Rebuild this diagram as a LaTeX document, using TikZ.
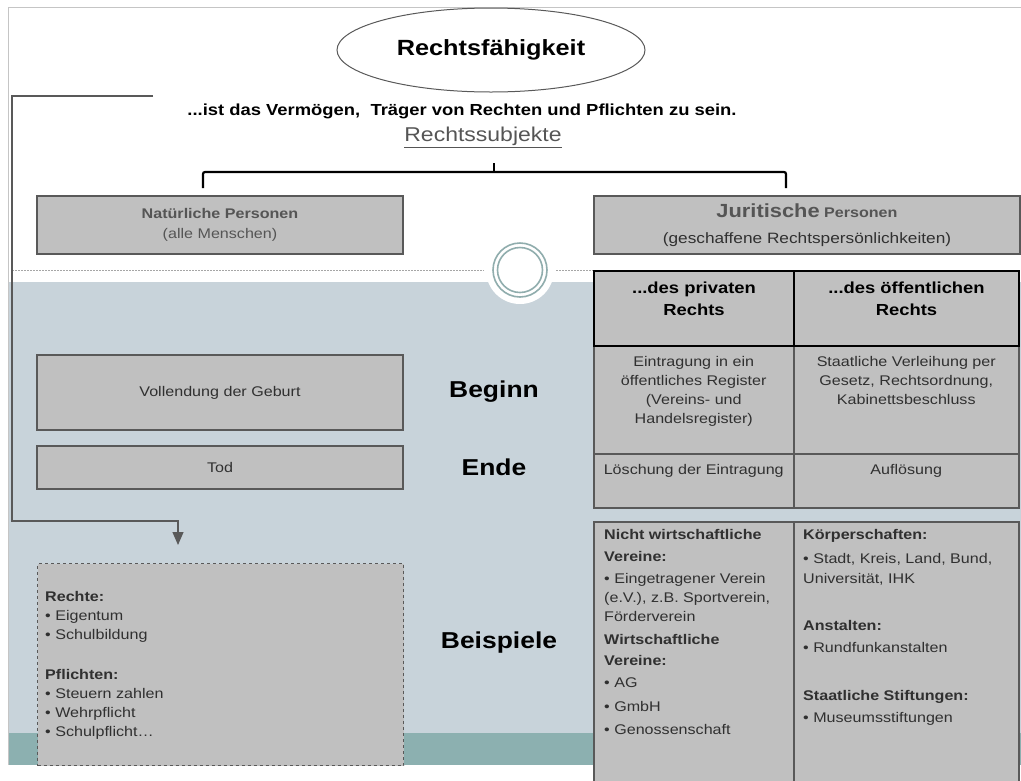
\documentclass[tikz,border=0pt]{standalone}
\usepackage{fontspec}
\setmainfont{Liberation Sans}[FakeStretch=1.15]
\usetikzlibrary{arrows.meta,positioning,shapes.geometric}
\usepackage{xcolor}
\definecolor{rfGrey}{HTML}{C0C0C0}
\definecolor{rfLine}{HTML}{595959}
\definecolor{rfBlue}{HTML}{C8D3DA}
\definecolor{rfTeal}{HTML}{8CB0B0}
\definecolor{rfRing}{HTML}{90ADAD}
\definecolor{rfText}{HTML}{303030}
\definecolor{rfSoft}{HTML}{555555}
\newcommand{\rfsize}[2]{\fontsize{#1}{#2}\selectfont}
\tikzset{
    greybox/.style={
        draw=rfLine,line width=1.3pt,fill=rfGrey,
        align=center,text=#1,font=\rfsize{14}{20}
    },
    greybox/.default=rfText,
    headcell/.style={
        draw=black,line width=2pt,fill=rfGrey,
        anchor=north west,inner sep=0pt
    },
    cell/.style={
        draw=rfLine,line width=1.5pt,fill=rfGrey,
        anchor=north west,inner sep=0pt
    },
    celltext/.style={
        align=center,text=rfText,font=\rfsize{14}{19},inner sep=0pt
    },
    listtext/.style={
        align=left,text=rfText,font=\rfsize{14}{19},
        inner sep=0pt,anchor=north west
    },
    phase/.style={font=\rfsize{23}{26}\bfseries,text=black},
    link/.style={
        draw=rfLine,line width=1.2pt,-{Triangle[length=13pt,width=11pt]}
    },
    bracket/.style={draw=black,line width=2.2pt,rounded corners=2pt},
    ring/.style={draw=rfRing,line width=1.6pt},
    sepline/.style={draw=gray!70,line width=0.8pt,dash pattern=on 2pt off 1pt}
}

\begin{document}
\begin{tikzpicture}[x=1pt,y=-1pt]
\clip (0,0) rectangle (1021,780);

\fill[rfBlue] (8,282) rectangle (1021,733);
\fill[rfTeal] (8,733) rectangle (1021,765);
\draw[rfLine!35,line width=1pt] (1021,7) -- (8,7) -- (8,765);

\coordinate (hub) at (520,270);
\fill[white] (hub) circle (34pt);
\draw[sepline] (12,270) -- (484,270);
\draw[sepline] (556,270) -- (594,270);
\draw[ring] (hub) circle (27pt);
\draw[ring] (hub) circle (22.5pt);

\node[ellipse,draw=rfLine,line width=1pt,fill=white,
minimum width=308pt,minimum height=84pt,
font=\rfsize{22}{26}\bfseries] (title) at (491,50) {Rechtsfähigkeit};

\node[font=\rfsize{16}{19}\bfseries] (claim) at (462,111)
{...ist das Vermögen,\ \ Träger von Rechten und Pflichten zu sein.};

\node[font=\rfsize{20}{23},text=rfSoft] (subj) at (483,137)
{\underline{Rechtssubjekte}};

\coordinate (brStem) at (494,163);
\coordinate (brLeft) at (203,188);
\coordinate (brRight) at (786,188);
\draw[bracket] (brLeft) -- ++(0,-16) -| (brRight);
\draw[bracket] (brStem) -- ++(0,9);

\node[greybox=rfSoft,minimum width=366pt,minimum height=58pt]
(natural) at (220,225)
{\textbf{Natürliche Personen}\\(alle Menschen)};

\node[greybox=rfSoft,minimum width=426pt,minimum height=58pt]
(legal) at (807,225)
{{\rfsize{19}{22}\bfseries Juritische} \textbf{Personen}\\[6pt]
{\rfsize{15}{20}\color{rfText}(geschaffene Rechtspersönlichkeiten)}};

\node[greybox,minimum width=366pt,minimum height=75pt]
(birth) at (220,392.5) {Vollendung der Geburt};
\node[greybox,minimum width=366pt,minimum height=43pt]
(death) at (220,467.5) {Tod};

\node[phase] (beginLbl) at (494,392) {Beginn};
\node[phase] (endLbl) at (494,467) {Ende};
\node[phase] (exLbl) at (499,643) {Beispiele};

\node[greybox,dashed,line width=1.2pt,anchor=north west,
minimum width=366pt,minimum height=202pt] (rights) at (37,563) {};
\node[listtext,below right=28pt and 8pt of rights.north west] (rightsTxt)
{\textbf{Rechte:}\\
• Eigentum\\
• Schulbildung\\[21pt]
\textbf{Pflichten:}\\
• Steuern zahlen\\
• Wehrpflicht\\
• Schulpflicht…};

\coordinate (loopStart) at (153,96);
\coordinate (loopTurn) at (178,521);
\draw[link,shorten >=18pt] (loopStart) -- (12,96) |- (loopTurn)
-- (loopTurn |- rights.north);

\node[cell,minimum width=200pt,minimum height=108pt] (regA) at (593,345) {};
\node[cell,minimum width=225pt,minimum height=108pt] (regB) at (793,345) {};
\node[cell,minimum width=200pt,minimum height=54pt] (endA) at (593,453) {};
\node[cell,minimum width=225pt,minimum height=54pt] (endB) at (793,453) {};
\node[headcell,minimum width=200pt,minimum height=75pt] (privH) at (593,270) {};
\node[headcell,minimum width=225pt,minimum height=75pt] (publH) at (793,270) {};

\node[celltext,font=\rfsize{16}{22}\bfseries,text=black,
below=12pt of privH.north] {...des privaten\\Rechts};
\node[celltext,font=\rfsize{16}{22}\bfseries,text=black,
below=12pt of publH.north] {...des öffentlichen\\Rechts};
\node[celltext,below=11pt of regA.north]
{Eintragung in ein\\öffentliches Register\\(Vereins- und\\Handelsregister)};
\node[celltext,below=11pt of regB.north]
{Staatliche Verleihung per\\Gesetz, Rechtsordnung,\\Kabinettsbeschluss};
\node[celltext,below=11pt of endA.north] {Löschung der Eintragung};
\node[celltext,below=11pt of endB.north] {Auflösung};

\node[cell,minimum width=200pt,minimum height=270pt] (exPriv) at (593,521) {};
\node[cell,minimum width=225pt,minimum height=270pt] (exPubl) at (793,521) {};

\node[listtext,below right=8pt and 11pt of exPriv.north west]
{\textbf{Nicht wirtschaftliche}\\[3pt]
\textbf{Vereine:}\\[3pt]
• Eingetragener Verein\\
(e.V.), z.B. Sportverein,\\
Förderverein\\[4pt]
\textbf{Wirtschaftliche}\\[2pt]
\textbf{Vereine:}\\[3pt]
• AG\\[5pt]
• GmbH\\[4pt]
• Genossenschaft};

\node[listtext,below right=8pt and 10pt of exPubl.north west]
{\textbf{Körperschaften:}\\[5pt]
• Stadt, Kreis, Land, Bund,\\[1pt]
Universität, IHK\\[28pt]
\textbf{Anstalten:}\\[3pt]
• Rundfunkanstalten\\[29pt]
\textbf{Staatliche Stiftungen:}\\[3pt]
• Museumsstiftungen};

\end{tikzpicture}
\end{document}
